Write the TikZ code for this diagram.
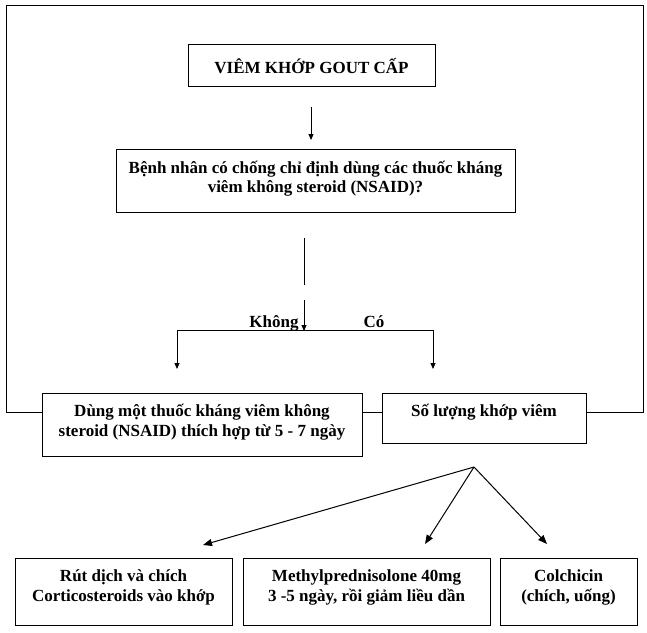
\documentclass[tikz,border=0pt]{standalone}
\usepackage{fontspec}
\setmainfont{Liberation Serif}
\usetikzlibrary{arrows.meta}
\newcommand{\topstrut}{\rule{0pt}{16pt}}
\begin{document}
\begin{tikzpicture}[x=1pt,y=-1pt,
  box/.style={draw,line width=0.9pt,inner sep=0pt},
  txt/.style={anchor=north,align=center,inner sep=0pt,font=\fontsize{17}{19.5}\selectfont\bfseries},
  ln/.style={line width=0.9pt},
  arr/.style={line width=0.9pt,-{Triangle[length=6pt,width=5pt]}},
  farr/.style={line width=1pt,-{Triangle[length=9pt,width=7pt]}}]
\useasboundingbox (0,0) rectangle (647,632);
% boxes
\node[box,minimum width=247pt,minimum height=42pt] (b1) at (311.5,65) {};
\node[box,minimum width=399pt,minimum height=63pt] (b2) at (315.5,180.5) {};
\node[box,minimum width=320pt,minimum height=63pt] (b3) at (202,424.5) {};
\node[box,minimum width=204pt,minimum height=50pt] (b4) at (484,418) {};
\node[box,minimum width=217pt,minimum height=67pt] (b5) at (123.5,591.5) {};
\node[box,minimum width=247pt,minimum height=67pt] (b6) at (366.5,591.5) {};
\node[box,minimum width=137pt,minimum height=67pt] (b7) at (568.5,591.5) {};
% texts
\node[txt,anchor=center] (t1) at ([yshift=-1pt]b1.center) {VIÊM KHỚP GOUT CẤP};
\node[txt] (t2) at ([yshift=-8.5pt]b2.north) {\topstrut Bệnh nhân có chống chỉ định dùng các thuốc kháng\\viêm không steroid (NSAID)?};
\node[txt] (t3) at ([yshift=-8pt]b3.north) {\topstrut Dùng một thuốc kháng viêm không\\steroid (NSAID) thích hợp từ 5 - 7 ngày};
\node[txt] (t4) at ([yshift=-8pt]b4.north) {\topstrut Số lượng khớp viêm};
\node[txt] (t5) at ([yshift=-8pt]b5.north) {\topstrut Rút dịch và chích\\Corticosteroids vào khớp};
\node[txt] (t6) at ([yshift=-8pt]b6.north) {\topstrut Methylprednisolone 40mg\\3 -5 ngày, rồi giảm liều dần};
\node[txt] (t7) at ([yshift=-8pt]b7.north) {\topstrut Colchicin\\(chích, uống)};
% outer frame
\coordinate (fl) at (6,412);
\coordinate (ftl) at (6,5);
\coordinate (ftr) at (643,5);
\coordinate (fr) at (643,412);
\draw[ln] (b3.west |- fl) -- (fl) -- (ftl) -- (ftr) -- (fr) -- (b4.east |- fr);
\draw[ln] (b3.east |- fl) -- (b4.west |- fl);
% arrows
\coordinate (a1s) at (311,107);
\coordinate (a1e) at (311,140);
\draw[arr] (a1s) -- (a1e);
\coordinate (v1) at (304,238);
\coordinate (v2) at (304,285);
\coordinate (v3) at (304,300);
\coordinate (v4) at (304,331);
\draw[ln] (v1) -- (v2);
\draw[arr] (v3) -- (v4);
\coordinate (hl) at (177,330);
\coordinate (hr) at (433,330);
\coordinate (dl) at (177,369);
\coordinate (dr) at (433,369);
\draw[ln] (hl) -- (hr);
\draw[arr] (hl) -- (dl);
\draw[arr] (hr) -- (dr);
\node[txt,anchor=base] (k) at (274,327) {Không};
\node[txt,anchor=base] (c) at (374,327) {Có};
% fan
\coordinate (fp) at (474,467);
\coordinate (e5) at (203,545);
\coordinate (e6) at (425,544);
\coordinate (e7) at (547,544);
\draw[farr] (fp) -- (e5);
\draw[farr] (fp) -- (e6);
\draw[farr] (fp) -- (e7);
\end{tikzpicture}
\end{document}
